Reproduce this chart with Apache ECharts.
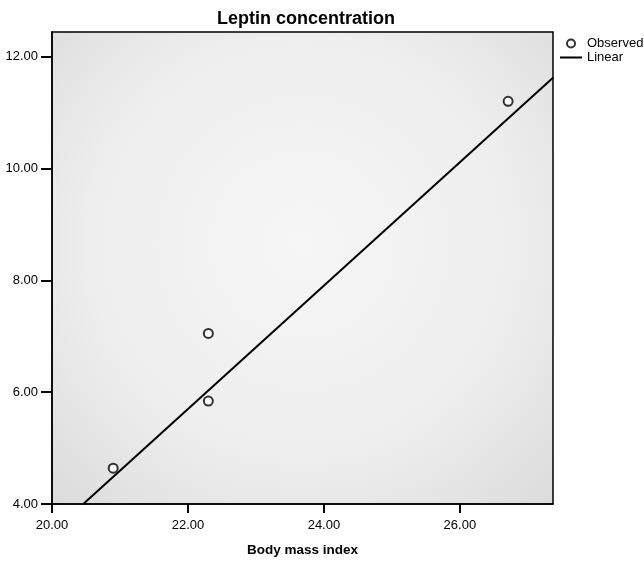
<!DOCTYPE html>
<html>
<head>
<meta charset="utf-8">
<title>Leptin concentration</title>
<script src="https://cdn.jsdelivr.net/npm/echarts@6/dist/echarts.min.js"></script>
<style>
  html, body { margin: 0; padding: 0; background: #fff; }
  #chart { width: 644px; height: 562px; }
</style>
</head>
<body>
<div id="chart"></div>
<script>
// 观测值（BMI, 瘦素浓度）
const bmiValues = [20.90, 22.30, 22.30, 26.71]
const leptinValues = [4.64, 7.05, 5.84, 11.20]

// 线性拟合线的两个端点
const fitX = [20.46, 27.37]
const fitY = [4.00, 11.62]

const seriesNames = ['Observed', 'Linear']

const fontFamily = '"Liberation Sans", Arial, sans-serif'

const chart = echarts.init(document.getElementById('chart'))

const option = {
  animation: false,
  backgroundColor: '#fff',
  title: {
    text: 'Leptin concentration',
    left: 212,
    top: 5,
    textStyle: {
      fontFamily,
      fontSize: 18,
      fontWeight: 'bold',
      color: '#000'
    }
  },
  legend: {
    orient: 'vertical',
    left: 555,
    top: 32,
    itemWidth: 22,
    itemHeight: 8,
    itemGap: 1,
    textStyle: {
      fontFamily,
      fontSize: 13,
      color: '#000'
    },
    data: [
      {
        name: seriesNames[0],
        icon: 'circle',
        itemStyle: { color: 'transparent', borderColor: '#000', borderWidth: 2 }
      },
      {
        name: seriesNames[1],
        icon: 'path://M0 0H22V2H0Z',
        itemStyle: { color: '#000', borderWidth: 0 }
      }
    ]
  },
  grid: {
    left: 52,
    right: 91,
    top: 32,
    bottom: 54,
    show: true,
    borderColor: '#000',
    borderWidth: 1.5,
    backgroundColor: {
      type: 'radial',
      x: 0.5,
      y: 0.45,
      r: 0.75,
      colorStops: [
        { offset: 0, color: '#f6f6f6' },
        { offset: 0.6, color: '#eeeeee' },
        { offset: 1, color: '#dcdcdc' }
      ]
    }
  },
  xAxis: {
    type: 'value',
    min: 20,
    max: 27.37,
    interval: 2,
    name: 'Body mass index',
    nameLocation: 'middle',
    nameGap: 39,
    nameTextStyle: {
      fontFamily,
      fontSize: 13.5,
      fontWeight: 'bold',
      color: '#000'
    },
    splitLine: { show: false },
    axisLine: { lineStyle: { color: '#000', width: 1.5 } },
    axisTick: { length: 9, lineStyle: { color: '#000', width: 2 } },
    axisLabel: {
      margin: 15,
      showMaxLabel: false,
      fontFamily,
      fontSize: 13,
      color: '#000',
      formatter: (v) => v.toFixed(2)
    }
  },
  yAxis: {
    type: 'value',
    min: 4,
    max: 12.44,
    interval: 2,
    splitLine: { show: false },
    axisLine: { show: true, lineStyle: { color: '#000', width: 1.5 } },
    axisTick: { show: true, length: 11, lineStyle: { color: '#000', width: 2 } },
    axisLabel: {
      margin: 14,
      showMaxLabel: false,
      fontFamily,
      fontSize: 13,
      color: '#000',
      formatter: (v) => v.toFixed(2)
    }
  },
  series: [
    {
      name: seriesNames[0],
      type: 'scatter',
      symbol: 'emptyCircle',
      symbolSize: 9,
      itemStyle: { color: '#000', borderColor: '#000', borderWidth: 2.5 },
      z: 3,
      data: bmiValues.map((x, i) => [x, leptinValues[i]])
    },
    {
      name: seriesNames[1],
      type: 'line',
      symbol: 'none',
      clip: true,
      lineStyle: { color: '#000', width: 2 },
      itemStyle: { color: '#000' },
      z: 2,
      data: fitX.map((x, i) => [x, fitY[i]])
    }
  ]
}

chart.setOption(option)
</script>
</body>
</html>
